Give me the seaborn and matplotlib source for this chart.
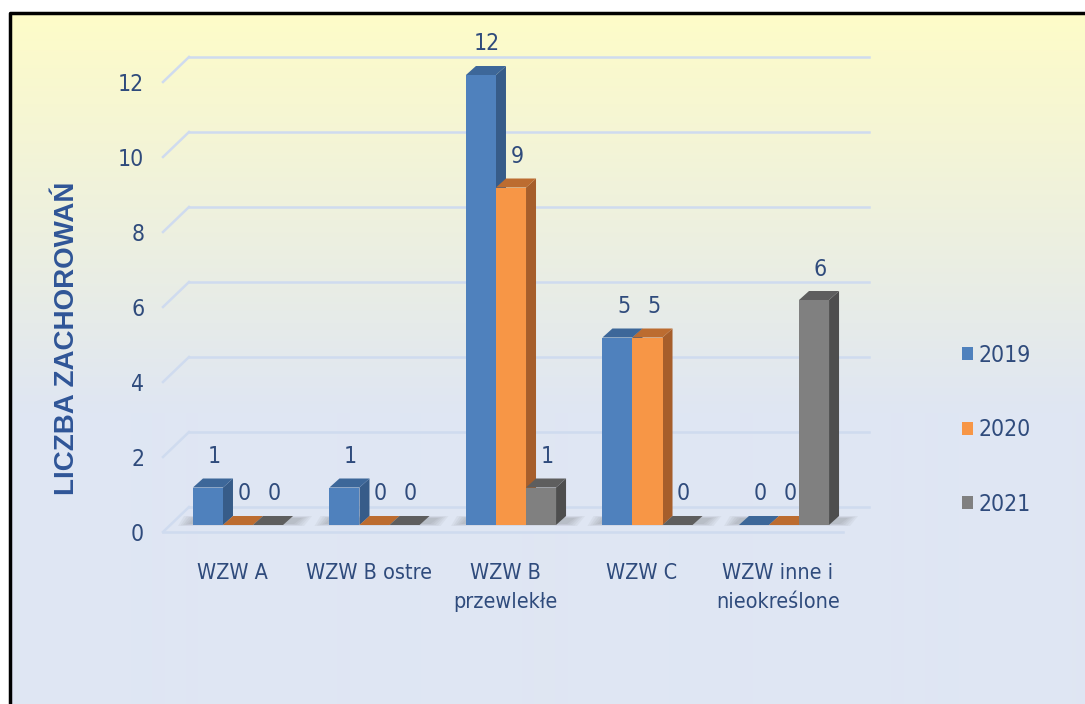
import numpy as np
import pandas as pd
import matplotlib
matplotlib.use("Agg")
import matplotlib.pyplot as plt
import seaborn as sns
from matplotlib import font_manager
from matplotlib.patches import Polygon, Patch

# --- dane z wykresu ---
kategorie = ["WZW A", "WZW B ostre", "WZW B\nprzewlekłe", "WZW C", "WZW inne i\nnieokreślone"]
lata = ["2019", "2020", "2021"]
wart_2019 = [1, 1, 12, 5, 0]
wart_2020 = [0, 0, 9, 5, 0]
wart_2021 = [0, 0, 1, 0, 6]
y_ticks = [0, 2, 4, 6, 8, 10, 12]

kolory = ["#4F81BD", "#F79646", "#808080"]
boki = ["#375C89", "#A65E2B", "#4E4E4E"]
gory = ["#3D6799", "#BC6C30", "#5E5E5E"]
kolor_tekstu = "#2F4B7C"

df = pd.DataFrame({
    "kategoria": kategorie * 3,
    "rok": [r for r in lata for _ in kategorie],
    "liczba": wart_2019 + wart_2020 + wart_2021,
})

# wąska czcionka, jeśli jest dostępna (oryginał jest zwężony)
wpisy = font_manager.fontManager.ttflist
nazwy = {f.name for f in wpisy}
rodzina, rozm, rozm_liczb = "Lato", 15.5, 16
if "Liberation Sans Narrow" in nazwy:
    rodzina, rozm, rozm_liczb = "Liberation Sans Narrow", 17, 18
elif any(f.name == "DejaVu Sans" and f.stretch == "condensed" for f in wpisy):
    rodzina, rozm, rozm_liczb = "DejaVu Sans", 15.5, 16.5
    plt.rcParams["font.stretch"] = "condensed"
elif "DejaVu Sans Condensed" in nazwy:
    rodzina, rozm, rozm_liczb = "DejaVu Sans Condensed", 15.5, 16.5
elif "Roboto Condensed" in nazwy:
    rodzina, rozm, rozm_liczb = "Roboto Condensed", 16.5, 17.5
plt.rcParams["font.family"] = [rodzina, "DejaVu Sans"]

W, H = 1085, 704
fig = plt.figure(figsize=(W / 100, H / 100), dpi=100)

# tło z gradientem + ramka
bg = fig.add_axes([0, 0, 1, 1], zorder=-10)
bg.set_xlim(0, W)
bg.set_ylim(H, 0)
bg.set_axis_off()
gora_rgb = np.array(matplotlib.colors.to_rgb("#FEFCC8"))
dol_rgb = np.array(matplotlib.colors.to_rgb("#DFE6F3"))
t = np.clip(np.arange(H - 13) / 400.0, 0, 1)[:, None]
grad = (gora_rgb * (1 - t) + dol_rgb * t)[:, None, :]
bg.imshow(grad, extent=[10, W, H, 13], aspect="auto", interpolation="bilinear")
bg.plot([10, 10, W], [H, 13, 13], color="black", lw=2.5, solid_capstyle="butt")

# geometria osi (piksele na jednostkę)
PX_X, PX_Y = 136.5, 37.5
front_dy = -7 / PX_Y            # przednia krawędź podłogi
back_dx, back_dy = 26 / PX_X, 18 / PX_Y
bar_dx, bar_dy = 10 / PX_X, 9 / PX_Y
x0_lim, x1_lim = -75 / PX_X, (843 - 238) / PX_X
y0_lim, y1_lim = front_dy, 12.4
left_px, bottom_px = 163, 532
ax = fig.add_axes([left_px / W, (H - bottom_px) / H,
                   (x1_lim - x0_lim) * PX_X / W, (y1_lim - y0_lim) * PX_Y / H])
ax.patch.set_alpha(0)

sns.barplot(data=df, x="kategoria", y="liczba", hue="rok", palette=kolory,
            width=0.66, saturation=1, ax=ax, legend=False, edgecolor="none",
            linewidth=0, err_kws={"linewidth": 0})
ax.set_xlim(x0_lim, x1_lim)
ax.set_ylim(y0_lim, y1_lim)

# linie siatki "3D"
siatka = "#CFDBEF"
for v in y_ticks:
    ax.plot([x0_lim + back_dx, x1_lim + back_dx], [v + back_dy, v + back_dy],
            color=siatka, lw=1.8, clip_on=False, zorder=1)
    ax.plot([x0_lim, x0_lim + back_dx], [v + front_dy, v + back_dy],
            color=siatka, lw=1.8, clip_on=False, zorder=1)
ax.plot([x0_lim, x1_lim], [front_dy, front_dy], color=siatka, lw=1.8, clip_on=False, zorder=1)

# słupki: cienie, boki, góry, etykiety
slupki = []
for ci, cont in enumerate(ax.containers):
    for p in cont.patches:
        slupki.append((p.get_x(), ci, p))
slupki.sort(key=lambda s: s[0])

for gi in range(len(kategorie)):
    grupa = slupki[gi * 3:(gi + 1) * 3]
    lx = grupa[0][0]
    rx = grupa[-1][0] + grupa[-1][2].get_width()
    for k in range(5):
        e = (1 + 2.5 * k) / PX_X
        ey = (0.5 * k) / PX_Y
        ax.add_patch(Polygon([(lx - 4 / PX_X - e, 1 / PX_Y - ey), (rx + 10 / PX_X + e, 1 / PX_Y - ey),
                              (rx + 18 / PX_X + e, 7 / PX_Y + ey), (lx + 2 / PX_X - e, 7 / PX_Y + ey)],
                             color="#555555", alpha=0.06, lw=0, zorder=2, clip_on=False))

for i, (x, ci, p) in enumerate(slupki):
    w, h = p.get_width(), p.get_height()
    z = 3 + 2 * i
    p.set_zorder(z + 1)
    ax.add_patch(Polygon([(x + w, 0), (x + w + bar_dx, bar_dy), (x + w + bar_dx, h + bar_dy), (x + w, h)],
                         color=boki[ci], lw=0, zorder=z, clip_on=False))
    ax.add_patch(Polygon([(x, h), (x + bar_dx, h + bar_dy), (x + w + bar_dx, h + bar_dy), (x + w, h)],
                         color=gory[ci], lw=0, zorder=z, clip_on=False))
    ax.text(x + w / 2 + 6 / PX_X, h + 31 / PX_Y, f"{h:.0f}", ha="center", va="center",
            fontsize=rozm_liczb, color=kolor_tekstu, zorder=50)

# osie i etykiety
ax.set_xticks(np.arange(len(kategorie)) - 6 / PX_X, kategorie, linespacing=1.6)
ax.set_yticks(np.array(y_ticks) + front_dy, [str(v) for v in y_ticks])
ax.tick_params(axis="x", length=0, pad=22, labelsize=rozm, labelcolor=kolor_tekstu)
ax.tick_params(axis="y", length=0, pad=13.5, labelsize=rozm_liczb, labelcolor=kolor_tekstu)
ax.set_xlabel("")
ax.set_ylabel("")
for s in ax.spines.values():
    s.set_visible(False)

fig.text(67 / W, 1 - 338 / H, "LICZBA ZACHOROWAŃ", rotation=90, ha="center", va="center",
         fontsize=20, fontweight="bold", color="#2F5597", fontstretch="normal",
         family=["Liberation Sans", "DejaVu Sans"])

# legenda
uchwyty = [Patch(facecolor=c, edgecolor="none") for c in kolory]
leg = fig.legend(uchwyty, lata, loc="center left", bbox_to_anchor=(941 / W, 1 - 430 / H),
                 frameon=False, fontsize=rozm_liczb, labelspacing=2.25, handlelength=0.5,
                 handleheight=0.5, handletextpad=0.25, labelcolor=kolor_tekstu)

fig.savefig("out.png", dpi=100)
